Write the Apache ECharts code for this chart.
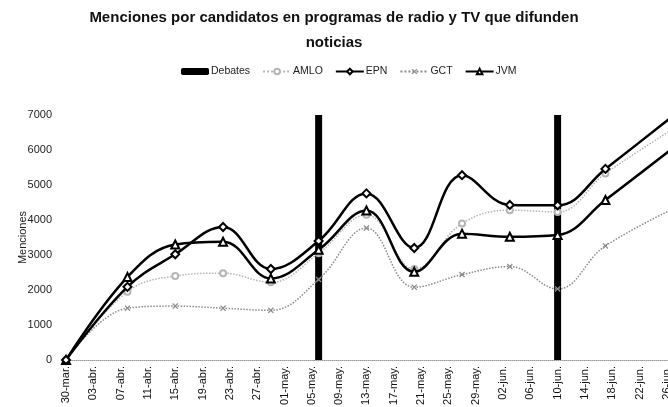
<!DOCTYPE html>
<html>
<head>
<meta charset="utf-8">
<script src="https://cdn.jsdelivr.net/npm/echarts@6/dist/echarts.min.js"></script>
<style>
html,body{margin:0;padding:0;background:#fff;}
#c{width:668px;height:407px;}
</style>
</head>
<body>
<div id="c"></div>
<script>
// ---- data ----
var baseDate = [2012, 2, 30]; // 30-mar-2012 (day 0)
var monthNames = ['ene','feb','mar','abr','may','jun','jul','ago','sep','oct','nov','dic'];
var dates = ['2012-03-30','2012-04-08','2012-04-15','2012-04-22','2012-04-29','2012-05-06','2012-05-13','2012-05-20','2012-05-27','2012-06-03','2012-06-10','2012-06-17','2012-07-01'];
var AMLO = [0, 1950, 2400, 2480, 2220, 3050, 4150, 2600, 3900, 4280, 4230, 5330, 7100];
var EPN  = [0, 2090, 3020, 3800, 2600, 3400, 4760, 3200, 5280, 4430, 4420, 5460, 7600];
var GCT  = [0, 1480, 1540, 1480, 1420, 2300, 3770, 2080, 2440, 2670, 2030, 3260, 4700];
var JVM  = [0, 2370, 3300, 3380, 2330, 3150, 4270, 2520, 3610, 3520, 3570, 4570, 6680];
var debateDates = ['2012-05-06','2012-06-10'];
var debateValue = [7000, 7000];

var DAY = 86400000;
var base = Date.UTC(baseDate[0], baseDate[1], baseDate[2]);
function dayOf(s){ var p = s.split('-'); return Math.round((Date.UTC(+p[0], +p[1]-1, +p[2]) - base)/DAY); }
function pairs(vals){ return dates.map(function(d,i){ return [dayOf(d), vals[i]]; }); }
function fmtDay(v){
  var d = new Date(base + v*DAY);
  var dd = d.getUTCDate(); return (dd<10?'0':'')+dd+'-'+monthNames[d.getUTCMonth()]+'.';
}

var FONT = "'Liberation Sans', Arial, sans-serif";
var xShape = 'path://M0,1.5L1.5,0L5,3.5L8.5,0L10,1.5L6.5,5L10,8.5L8.5,10L5,6.5L1.5,10L0,8.5L3.5,5Z';

var chart = echarts.init(document.getElementById('c'), null, {renderer:'canvas'});
chart.setOption({
  animation: false,
  backgroundColor: '#fff',
  textStyle: {fontFamily: FONT},
  title: {
    text: 'Menciones por candidatos en programas de radio y TV que difunden\nnoticias',
    left: 'center', top: 0,
    textStyle: {fontFamily: FONT, fontWeight: 'bold', fontSize: 15, color: '#111', lineHeight: 25}
  },
  legend: {
    top: 61, left: 176,
    itemWidth: 28, itemHeight: 7, itemGap: 12,
    textStyle: {fontFamily: FONT, fontSize: 10.5, color: '#222', padding: [0,0,0,-3]},
    data: ['Debates','AMLO','EPN','GCT','JVM']
  },
  grid: {left: 66, right: -33, top: 115, bottom: 47, outerBoundsMode: 'none', containLabel: false},
  xAxis: {
    type: 'value', min: 0, max: 93, interval: 4,
    axisLine: {show: true, lineStyle: {color: '#999', type: 'dotted', width: 1}},
    axisTick: {show: false},
    splitLine: {show: false},
    axisLabel: {rotate: 90, fontSize: 11, color: '#111', margin: 6, fontFamily: FONT,
      formatter: function(v){ return fmtDay(v); }}
  },
  yAxis: {
    type: 'value', min: 0, max: 7000, interval: 1000,
    name: 'Menciones', nameLocation: 'middle', nameGap: 38, nameMoveOverlap: false,
    nameTextStyle: {fontFamily: FONT, fontSize: 11, color: '#222'},
    axisLine: {show: false}, axisTick: {show: false}, splitLine: {show: false},
    axisLabel: {fontSize: 11, color: '#222', margin: 14, fontFamily: FONT,
      formatter: function(v){ return String(v); }}
  },
  series: [
    {name: 'Debates', type: 'bar', barWidth: 7, z: 1,
     itemStyle: {color: '#000'},
     data: debateDates.map(function(d,i){ return [dayOf(d), debateValue[i]]; })},
    {name: 'AMLO', type: 'line', smooth: 0.4, z: 3,
     symbol: 'emptyCircle', symbolSize: 6,
     lineStyle: {color: '#b5b5b5', width: 1.5, type: 'dotted'},
     itemStyle: {color: '#b5b5b5', borderColor: '#b5b5b5', borderWidth: 1},
     data: pairs(AMLO)},
    {name: 'EPN', type: 'line', smooth: 0.4, z: 5,
     symbol: 'emptyDiamond', symbolSize: 8,
     lineStyle: {color: '#000', width: 2.5},
     itemStyle: {color: '#000', borderColor: '#000', borderWidth: 1.2},
     data: pairs(EPN)},
    {name: 'GCT', type: 'line', smooth: 0.4, z: 3,
     symbol: xShape, symbolSize: 6,
     lineStyle: {color: '#8a8a8a', width: 1.5, type: 'dotted'},
     itemStyle: {color: '#8a8a8a'},
     data: pairs(GCT)},
    {name: 'JVM', type: 'line', smooth: 0.4, z: 4,
     symbol: 'emptyTriangle', symbolSize: 8,
     lineStyle: {color: '#000', width: 2.5},
     itemStyle: {color: '#000', borderColor: '#000', borderWidth: 1.2},
     data: pairs(JVM)}
  ]
});
</script>
</body>
</html>
